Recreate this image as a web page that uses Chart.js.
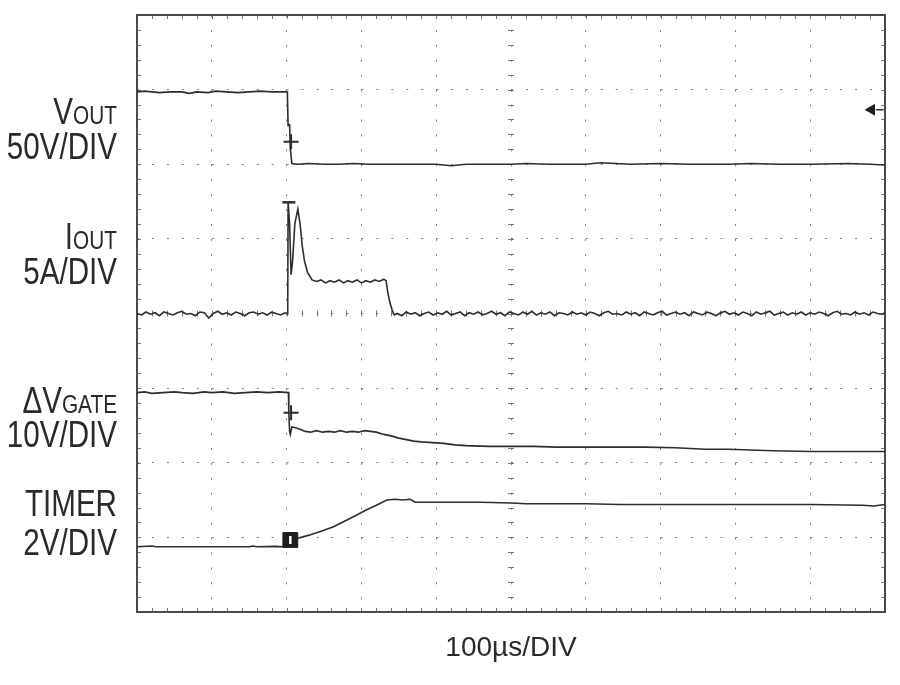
<!DOCTYPE html>
<html>
<head>
<meta charset="utf-8">
<script src="https://cdn.jsdelivr.net/npm/chart.js@4.4.1/dist/chart.umd.min.js"></script>
<style>
  html, body { margin: 0; padding: 0; background: #fff; }
  #scope { display: block; }
</style>
</head>
<body>
<canvas id="scope" width="900" height="685"></canvas>
<script>
// time in µs (100µs/DIV), amplitude in screen divisions (0 = bottom graticule line, 8 = top)
const traceNames = ['V', 'I', 'ΔV', 'TIMER'];
const traceSubs = ['OUT', 'OUT', 'GATE', ''];
const traceScales = ['50V/DIV', '5A/DIV', '10V/DIV', '2V/DIV'];
const timeBase = '100µs/DIV';

const vOut = [
  [0, 6.97], [10, 6.98], [20, 6.97], [30, 6.96], [45, 6.97], [60, 6.97], [70, 6.95], [80, 6.97],
  [95, 6.96], [105, 6.98], [120, 6.97], [135, 6.96], [150, 6.97], [165, 6.98], [180, 6.97], [201, 6.97],
  [202, 6.52], [204, 6.53], [205, 6.20], [207, 6.01], [215, 6.00], [230, 6.01], [250, 6.00], [270, 6.00],
  [290, 6.01], [310, 6.00], [330, 6.00], [400, 6.00], [420, 5.98], [440, 6.00], [500, 6.00], [520, 6.01],
  [550, 6.00], [600, 6.00], [620, 6.02], [660, 6.00], [700, 6.01], [740, 6.00], [790, 6.00], [820, 6.01],
  [860, 6.00], [900, 6.00], [950, 6.01], [980, 6.00], [1000, 5.99]
];

const iOut = [
  [0, 4.00], [6, 3.98], [12, 4.02], [18, 3.99], [24, 4.01], [30, 3.97], [36, 4.02], [42, 4.00],
  [48, 3.98], [54, 4.01], [60, 4.03], [66, 3.99], [72, 4.00], [78, 3.97], [84, 4.02], [90, 4.01],
  [96, 3.94], [102, 4.00], [108, 4.03], [114, 3.99], [120, 4.01], [126, 3.98], [132, 4.02], [138, 4.00],
  [144, 3.97], [150, 4.01], [156, 4.02], [162, 3.99], [168, 4.01], [174, 3.98], [180, 4.02], [186, 4.00],
  [192, 3.98], [198, 4.01], [201.5, 4.00],
  [202, 5.49], [204, 5.20], [206, 4.52], [208, 4.70], [211, 5.20], [215, 5.40], [218, 5.20], [221, 4.90],
  [224, 4.70], [228, 4.55], [234, 4.45], [240, 4.43], [246, 4.45], [252, 4.41], [258, 4.44], [264, 4.42],
  [270, 4.45], [276, 4.41], [282, 4.44], [288, 4.42], [294, 4.45], [300, 4.41], [306, 4.44], [312, 4.42],
  [318, 4.45], [324, 4.43], [330, 4.46], [333, 4.44], [335, 4.30], [338, 4.15], [341, 4.05], [344, 3.98],
  [348, 4.00], [354, 3.97], [360, 4.02], [366, 3.99], [372, 4.01], [378, 3.97], [384, 4.00], [390, 4.02],
  [396, 3.98], [402, 4.01], [408, 3.99], [414, 4.03], [420, 3.98], [426, 4.00], [432, 4.02], [438, 3.97],
  [444, 4.01], [450, 3.99], [456, 4.02], [462, 3.98], [468, 4.00], [474, 4.03], [480, 3.99], [486, 4.01],
  [492, 3.97], [498, 4.02], [504, 4.00], [510, 3.98], [516, 4.02], [522, 3.99], [528, 4.03], [534, 3.98],
  [540, 4.01], [546, 3.99], [552, 4.02], [558, 3.97], [564, 4.01], [570, 4.00], [576, 3.98], [582, 4.02],
  [588, 3.99], [594, 4.01], [600, 3.98], [606, 4.02], [612, 4.00], [618, 3.97], [624, 4.01], [630, 4.03],
  [636, 3.99], [642, 4.00], [648, 3.98], [654, 4.02], [660, 3.99], [666, 4.01], [672, 3.97], [678, 4.02],
  [684, 4.00], [690, 3.98], [696, 4.01], [702, 4.03], [708, 3.98], [714, 4.00], [720, 4.02], [726, 3.99],
  [732, 4.01], [738, 3.97], [744, 4.02], [750, 4.00], [756, 3.98], [762, 4.02], [768, 4.00], [774, 3.97],
  [780, 4.01], [786, 4.03], [792, 3.99], [798, 4.01], [804, 3.98], [810, 4.02], [816, 4.00], [822, 3.97],
  [828, 4.02], [834, 3.99], [840, 4.01], [846, 4.03], [852, 3.98], [858, 4.00], [864, 4.02], [870, 3.98],
  [876, 4.01], [882, 3.99], [888, 4.02], [894, 3.98], [900, 4.01], [906, 3.99], [912, 4.02], [918, 4.00],
  [924, 3.97], [930, 4.01], [936, 4.03], [942, 3.99], [948, 4.00], [954, 3.98], [960, 4.02], [966, 3.99],
  [972, 4.01], [978, 3.98], [984, 4.02], [990, 4.00], [996, 3.99], [1000, 4.01]
];

const vGate = [
  [0, 2.94], [10, 2.95], [20, 2.93], [35, 2.94], [50, 2.95], [60, 2.94], [75, 2.93], [90, 2.95],
  [100, 2.94], [115, 2.95], [130, 2.93], [145, 2.94], [160, 2.95], [175, 2.94], [190, 2.95], [202.5, 2.94],
  [203, 2.66], [204, 2.42], [205, 2.38], [207, 2.48], [212, 2.47], [218, 2.45], [225, 2.42], [232, 2.41],
  [240, 2.43], [248, 2.41], [256, 2.42], [264, 2.41], [272, 2.43], [280, 2.41], [288, 2.42], [296, 2.41],
  [304, 2.43], [312, 2.42], [320, 2.41], [330, 2.38], [340, 2.36], [350, 2.33], [360, 2.31], [370, 2.29],
  [380, 2.28], [395, 2.27], [410, 2.26], [425, 2.24], [440, 2.23], [470, 2.22], [500, 2.22], [530, 2.22],
  [560, 2.21], [600, 2.21], [640, 2.21], [680, 2.21], [720, 2.20], [740, 2.19], [760, 2.18], [790, 2.18],
  [820, 2.17], [850, 2.16], [900, 2.15], [1000, 2.15]
];

const timer = [
  [0, 0.875], [20, 0.885], [25, 0.875], [60, 0.875], [100, 0.875], [150, 0.875], [155, 0.885], [160, 0.875],
  [185, 0.88], [195, 0.875], [205, 0.93], [215, 0.99], [230, 1.03], [245, 1.08], [262, 1.14], [278, 1.22],
  [292, 1.29], [307, 1.37], [320, 1.43], [334, 1.50], [345, 1.51], [355, 1.50], [365, 1.51], [372, 1.47],
  [400, 1.47], [430, 1.47], [460, 1.47], [500, 1.46], [520, 1.45], [560, 1.45], [600, 1.45], [646, 1.44],
  [700, 1.44], [800, 1.44], [900, 1.44], [970, 1.43], [985, 1.42], [1000, 1.44]
];

// cursor / marker glyphs on the traces
const crossMarks = [[206, 6.30], [206, 2.67]];
const barMarks = [[203, 5.49]];
const groundMarks = [[205, 0.965]];
const triggerMarks = [[982, 6.73]];
const triggerTails = [[993, 6.73]];

const toXY = arr => arr.map(p => ({ x: p[0], y: p[1] }));
const traceColor = '#2e2e2e';
const labelFont = '"Liberation Sans", Arial, sans-serif';

function trace(data) {
  return {
    data: toXY(data),
    showLine: true,
    borderColor: traceColor,
    borderWidth: 1.6,
    pointRadius: 0,
    tension: 0,
    clip: false,
    order: 5
  };
}

const graticule = {
  id: 'graticule',
  beforeDatasetsDraw(chart) {
    const { ctx, chartArea: a } = chart;
    const xs = chart.scales.x, ys = chart.scales.y;
    const cy = ys.getPixelForValue(4), cx = xs.getPixelForValue(500);
    ctx.save();
    ctx.strokeStyle = '#777';
    ctx.lineWidth = 1;
    ctx.beginPath();
    for (let i = 1; i < 50; i++) {
      const x = Math.round(xs.getPixelForValue(i * 20)) + 0.5;
      ctx.moveTo(x, cy - 3); ctx.lineTo(x, cy + 3);
      ctx.moveTo(x, a.top); ctx.lineTo(x, a.top + 4);
      ctx.moveTo(x, a.bottom); ctx.lineTo(x, a.bottom - 4);
    }
    for (let i = 1; i < 40; i++) {
      const y = Math.round(ys.getPixelForValue(i * 0.2)) + 0.5;
      ctx.moveTo(cx - 3, y); ctx.lineTo(cx + 3, y);
      ctx.moveTo(a.left, y); ctx.lineTo(a.left + 4, y);
      ctx.moveTo(a.right, y); ctx.lineTo(a.right - 4, y);
    }
    ctx.stroke();
    ctx.strokeStyle = '#4a4a4a';
    ctx.lineWidth = 2;
    ctx.strokeRect(a.left, a.top, a.right - a.left, a.bottom - a.top);
    ctx.restore();
  }
};

const sideLabels = {
  id: 'sideLabels',
  afterDraw(chart) {
    const ctx = chart.ctx;
    const ys = chart.scales.y;
    // baseline of the name line and the scale line, in divisions
    const rows = [[6.54, 6.07], [4.87, 4.39], [2.66, 2.21], [1.28, 0.77]];
    const right = chart.chartArea.left - 20;
    ctx.save();
    ctx.fillStyle = '#2a2a2a';
    ctx.textAlign = 'right';
    ctx.textBaseline = 'alphabetic';
    traceNames.forEach((name, i) => {
      ctx.save();
      ctx.translate(right, ys.getPixelForValue(rows[i][0]));
      ctx.scale(0.8, 1);
      let w = 0;
      if (traceSubs[i]) {
        ctx.font = '26px ' + labelFont;
        ctx.fillText(traceSubs[i], 0, 0);
        w = ctx.measureText(traceSubs[i]).width;
      }
      ctx.font = '37px ' + labelFont;
      ctx.fillText(name, -w, 0);
      ctx.restore();

      ctx.save();
      ctx.translate(right, ys.getPixelForValue(rows[i][1]));
      ctx.scale(0.8, 1);
      ctx.font = '37px ' + labelFont;
      ctx.fillText(traceScales[i], 0, 0);
      ctx.restore();
    });
    ctx.restore();
  }
};

new Chart(document.getElementById('scope').getContext('2d'), {
  type: 'scatter',
  data: {
    datasets: [
      trace(vOut),
      trace(iOut),
      trace(vGate),
      trace(timer),
      {
        data: toXY(crossMarks), pointStyle: 'cross', pointRadius: 7.5,
        borderColor: traceColor, borderWidth: 2, clip: false, order: 3
      },
      {
        data: toXY(barMarks), pointStyle: 'line', pointRadius: 6.5,
        borderColor: traceColor, borderWidth: 2.5, clip: false, order: 3
      },
      {
        data: toXY(groundMarks), pointStyle: 'rect', pointRadius: 10.5,
        backgroundColor: '#1e1e1e', borderColor: '#1e1e1e', borderWidth: 1, clip: false, order: 2
      },
      {
        data: toXY(groundMarks), pointStyle: 'line', pointRadius: 4, pointRotation: 90,
        borderColor: '#ffffff', borderWidth: 2.5, clip: false, order: 1
      },
      {
        data: toXY(triggerMarks), pointStyle: 'triangle', pointRadius: 6, pointRotation: -90,
        backgroundColor: '#1e1e1e', borderColor: '#1e1e1e', borderWidth: 1, clip: false, order: 2
      },
      {
        data: toXY(triggerTails), pointStyle: 'line', pointRadius: 4,
        borderColor: '#3a3a3a', borderWidth: 1.5, clip: false, order: 2
      }
    ]
  },
  options: {
    responsive: false,
    animation: false,
    events: [],
    layout: { padding: { left: 137, right: 15, top: 15, bottom: 11.4 } },
    plugins: { legend: { display: false }, tooltip: { enabled: false } },
    scales: {
      x: {
        type: 'linear', min: 0, max: 1000,
        ticks: { display: false, stepSize: 100 },
        grid: { color: 'rgba(0,0,0,0.5)', lineWidth: 1, drawTicks: false },
        border: { display: false, dash: [2, 12.93] },
        title: {
          display: true, text: timeBase, color: '#2a2a2a',
          font: { family: labelFont, size: 28 }, padding: { top: 19, bottom: 9 }
        }
      },
      y: {
        type: 'linear', min: 0, max: 8,
        ticks: { display: false, stepSize: 1 },
        grid: { color: 'rgba(0,0,0,0.5)', lineWidth: 1, drawTicks: false },
        border: { display: false, dash: [2, 12.96] }
      }
    }
  },
  plugins: [graticule, sideLabels]
});
</script>
</body>
</html>
